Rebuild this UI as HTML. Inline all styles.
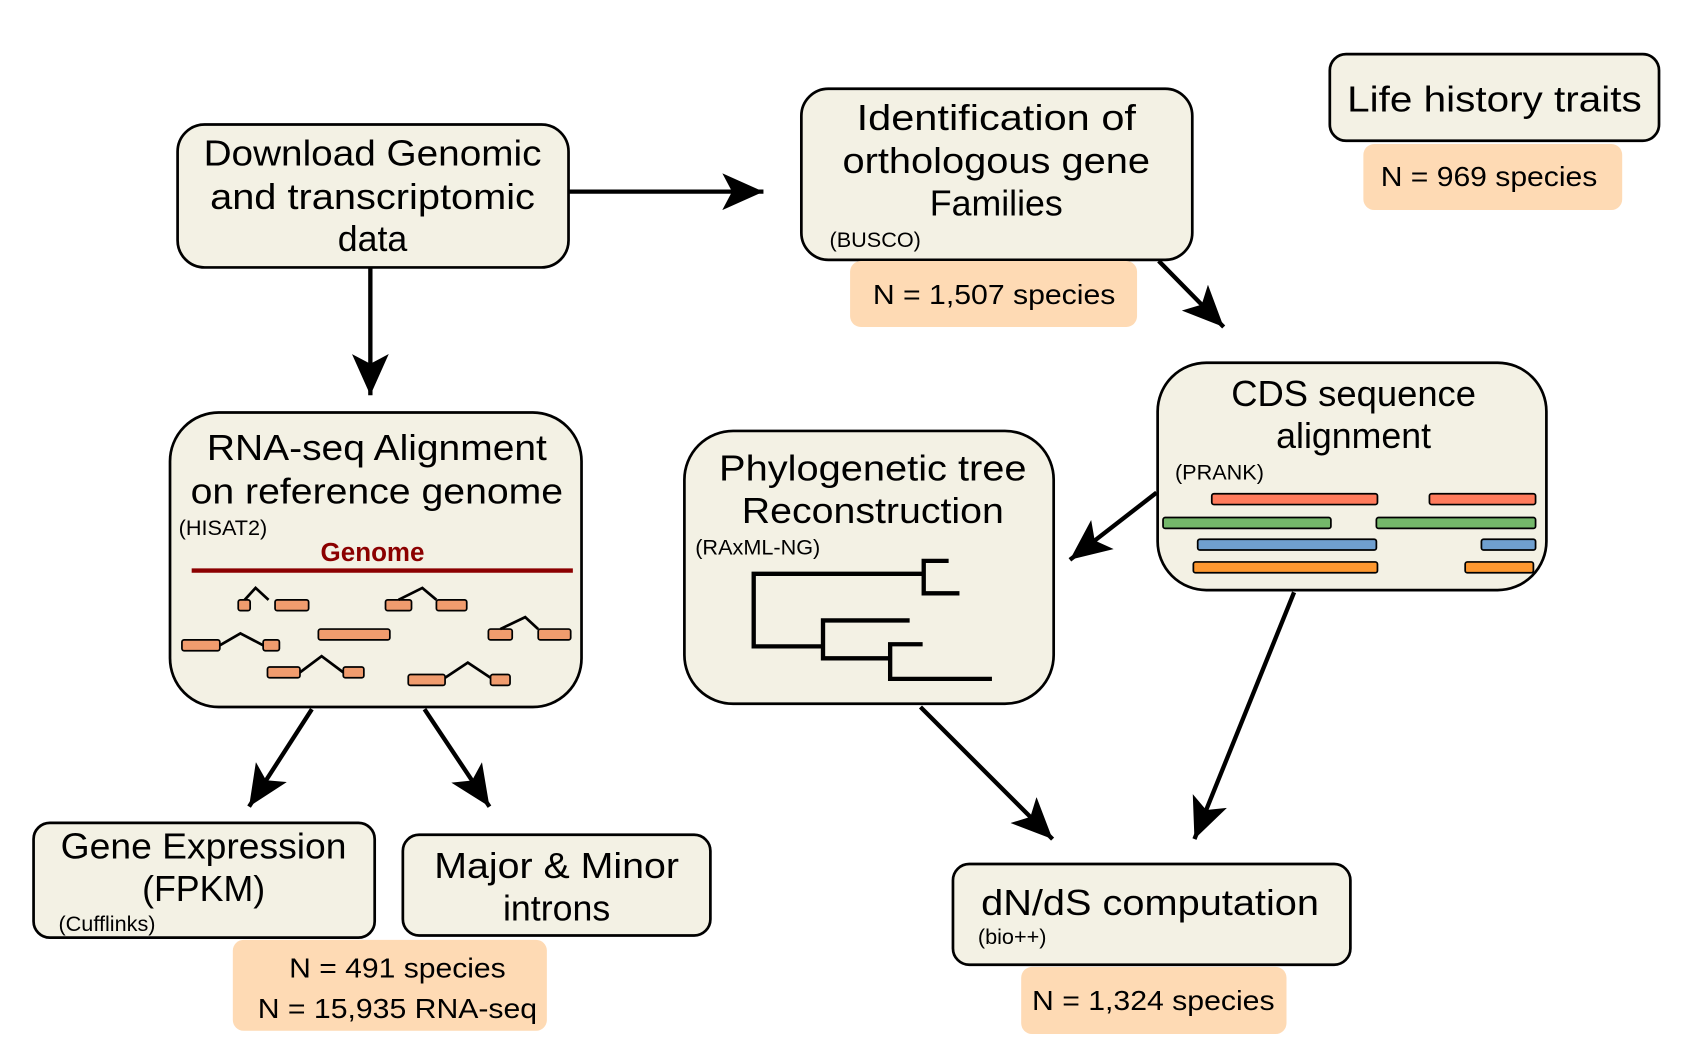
<!DOCTYPE html>
<html><head><meta charset="utf-8"><style>
html,body{margin:0;padding:0;background:#fff;}
svg{display:block;}
text{font-family:"Liberation Sans","DejaVu Sans",sans-serif;fill:#000;}
</style></head><body>
<svg width="1698" height="1060" viewBox="0 0 1568 979" preserveAspectRatio="none" xmlns="http://www.w3.org/2000/svg">
<defs>
<marker id="ah" markerUnits="userSpaceOnUse" markerWidth="40" markerHeight="34" viewBox="0 0 40 34" refX="38" refY="17" orient="auto">
<path d="M0,0 L38,17 L0,34 L9,17 Z" fill="#000"/>
</marker>
</defs>
<g fill="#f3f1e4" stroke="#000" stroke-width="2.5">
<rect x="164" y="115" width="361" height="132" rx="25"/>
<rect x="740" y="82" width="361" height="158" rx="25"/>
<rect x="1228" y="50" width="304" height="80" rx="15"/>
<rect x="157" y="381" width="380" height="272" rx="45"/>
<rect x="632" y="398" width="341" height="252" rx="45"/>
<rect x="1069" y="335" width="359" height="210" rx="45"/>
<rect x="31" y="760" width="315" height="106" rx="15"/>
<rect x="372" y="771" width="284" height="93" rx="15"/>
<rect x="880" y="798" width="367" height="93" rx="15"/>
</g>
<g fill="#fedab4">
<rect x="785" y="241" width="265" height="61" rx="10"/>
<rect x="1259" y="133" width="239" height="61" rx="10"/>
<rect x="215" y="868" width="290" height="84" rx="10"/>
<rect x="943" y="893" width="245" height="62" rx="10"/>
</g>
<g stroke="#000" stroke-width="4" fill="none" marker-end="url(#ah)">
<line x1="525" y1="177" x2="705" y2="177"/>
<line x1="342" y1="247" x2="342" y2="365"/>
<line x1="1070" y1="241" x2="1130" y2="302"/>
<line x1="288" y1="655" x2="230" y2="745"/>
<line x1="392" y1="655" x2="452" y2="745"/>
<line x1="1068" y1="455" x2="988" y2="517"/>
<line x1="850" y1="653" x2="972" y2="775"/>
<line x1="1195" y1="547" x2="1103" y2="775"/>
</g>
<g font-size="33" text-anchor="middle">
<text x="344" y="153" textLength="312" lengthAdjust="spacingAndGlyphs">Download Genomic</text>
<text x="344" y="193" textLength="300" lengthAdjust="spacingAndGlyphs">and transcriptomic</text>
<text x="344" y="232">data</text>
<text x="920" y="120" textLength="258" lengthAdjust="spacingAndGlyphs">Identification of</text>
<text x="920" y="160" textLength="284" lengthAdjust="spacingAndGlyphs">orthologous gene</text>
<text x="920" y="199">Families</text>
<text x="1380" y="103" textLength="272" lengthAdjust="spacingAndGlyphs">Life history traits</text>
<text x="348" y="425" textLength="314" lengthAdjust="spacingAndGlyphs">RNA-seq Alignment</text>
<text x="348" y="465" textLength="344" lengthAdjust="spacingAndGlyphs">on reference genome</text>
<text x="806" y="444" textLength="284" lengthAdjust="spacingAndGlyphs">Phylogenetic tree</text>
<text x="806" y="483" textLength="242" lengthAdjust="spacingAndGlyphs">Reconstruction</text>
<text x="1250" y="375" textLength="226" lengthAdjust="spacingAndGlyphs">CDS sequence</text>
<text x="1250" y="414">alignment</text>
<text x="188" y="793" textLength="264" lengthAdjust="spacingAndGlyphs">Gene Expression</text>
<text x="188" y="832">(FPKM)</text>
<text x="514" y="811" textLength="226" lengthAdjust="spacingAndGlyphs">Major &amp; Minor</text>
<text x="514" y="850">introns</text>
<text x="1062" y="845" textLength="312" lengthAdjust="spacingAndGlyphs">dN/dS computation</text>
</g>
<g font-size="26" text-anchor="middle">
<text x="918" y="281" textLength="224" lengthAdjust="spacingAndGlyphs">N = 1,507 species</text>
<text x="1375" y="172" textLength="200" lengthAdjust="spacingAndGlyphs">N = 969 species</text>
<text x="367" y="903" textLength="200" lengthAdjust="spacingAndGlyphs">N = 491 species</text>
<text x="367" y="940" textLength="258" lengthAdjust="spacingAndGlyphs">N = 15,935 RNA-seq</text>
<text x="1065" y="933" textLength="224" lengthAdjust="spacingAndGlyphs">N = 1,324 species</text>
</g>
<g font-size="20">
<text x="766" y="228">(BUSCO)</text>
<text x="165" y="494">(HISAT2)</text>
<text x="642" y="512">(RAxML-NG)</text>
<text x="1085" y="443">(PRANK)</text>
<text x="54" y="860">(Cufflinks)</text>
<text x="903" y="872">(bio++)</text>
</g>
<text x="344" y="518" font-size="24" font-weight="bold" text-anchor="middle" style="fill:#8b0000">Genome</text>
<line x1="177" y1="527" x2="529" y2="527" stroke="#8b0000" stroke-width="4"/>
<g fill="#f09c6e" stroke="#000" stroke-width="1.6">
<rect x="220" y="554" width="11" height="10" rx="2"/><rect x="254" y="554" width="31" height="10" rx="2"/>
<rect x="356" y="554" width="24" height="10" rx="2"/><rect x="403" y="554" width="28" height="10" rx="2"/>
<rect x="168" y="591" width="35" height="10" rx="2"/><rect x="243" y="591" width="15" height="10" rx="2"/>
<rect x="294" y="581" width="66" height="10" rx="2"/>
<rect x="451" y="581" width="22" height="10" rx="2"/><rect x="497" y="581" width="30" height="10" rx="2"/>
<rect x="247" y="616" width="30" height="10" rx="2"/><rect x="317" y="616" width="19" height="10" rx="2"/>
<rect x="377" y="623" width="34" height="10" rx="2"/><rect x="453" y="623" width="18" height="10" rx="2"/>
</g>
<g stroke="#000" stroke-width="2.5" fill="none">
<polyline points="226,554 236,543 248,554"/>
<polyline points="368,554 390,543 403,554"/>
<polyline points="203,596 222,585 243,596"/>
<polyline points="462,581 485,570 497,581"/>
<polyline points="277,621 297,606 317,621"/>
<polyline points="411,626 432,612 453,626"/>
</g>
<g stroke="#000" stroke-width="4" fill="none">
<polyline points="853,530 696,530 696,597 760,597"/>
<polyline points="876,518 853,518 853,548 886,548"/>
<polyline points="840,573 760,573 760,608 822,608"/>
<polyline points="852,595 822,595 822,627 916,627"/>
</g>
<g stroke="#000" stroke-width="1.6">
<rect x="1119" y="456" width="153" height="10" rx="2" fill="#ff7b5c"/>
<rect x="1320" y="456" width="98" height="10" rx="2" fill="#ff7b5c"/>
<rect x="1074" y="478" width="155" height="10" rx="2" fill="#74b86a"/>
<rect x="1271" y="478" width="147" height="10" rx="2" fill="#74b86a"/>
<rect x="1106" y="498" width="165" height="10" rx="2" fill="#6f9fcf"/>
<rect x="1368" y="498" width="50" height="10" rx="2" fill="#6f9fcf"/>
<rect x="1102" y="519" width="170" height="10" rx="2" fill="#fd9830"/>
<rect x="1353" y="519" width="63" height="10" rx="2" fill="#fd9830"/>
</g>
</svg>
</body></html>
